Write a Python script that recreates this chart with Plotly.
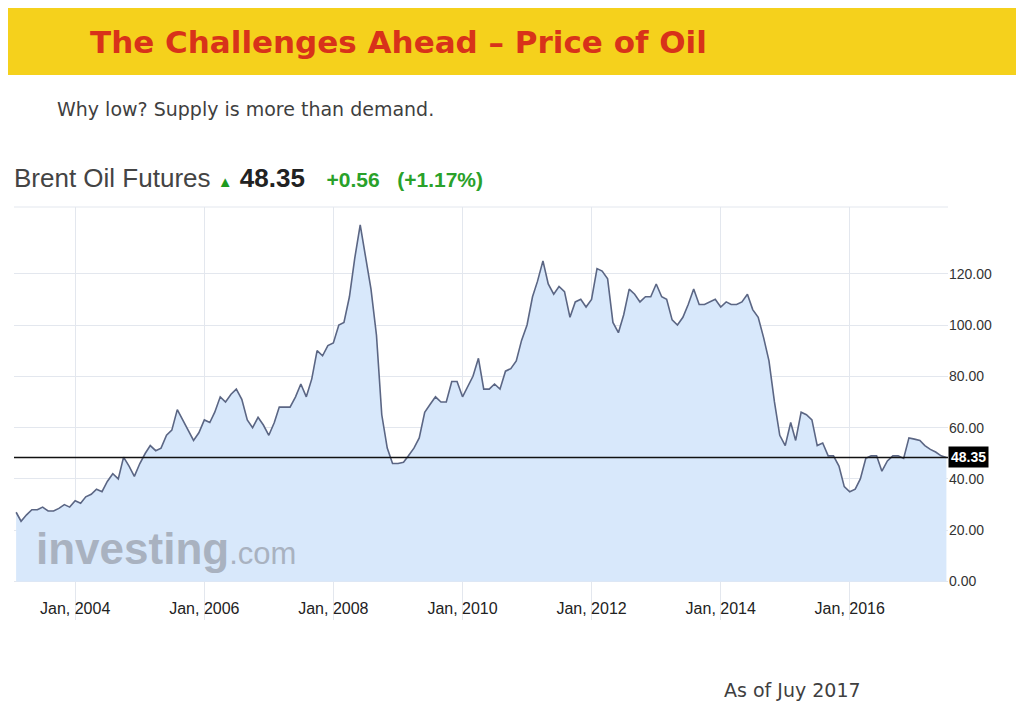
import pandas as pd
import plotly.graph_objects as go

# monthly Brent closes, Feb 2003 - Jul 2017
dates = pd.date_range("2003-02-01", "2017-07-01", freq="MS")
prices = [
    27, 23.5, 26, 28, 28, 29, 27.5, 27.5, 28.5, 30, 29,
    31.5, 30.5, 33, 34, 36, 35, 39, 42, 40, 48.5, 45, 41,
    46, 50, 53, 51, 52, 57, 59, 67, 63, 59, 55, 58,
    63, 62, 66, 72, 70, 73, 75, 71, 63, 60, 64, 61,
    57, 62, 68, 68, 68, 72, 77, 72, 79, 90, 88, 92,
    93, 100, 101, 111, 126, 139, 126, 114, 96, 65, 52, 46,
    46, 46.5, 49, 52, 56, 66, 69, 72, 70, 70, 78, 78,
    72, 76, 80, 87, 75, 75, 77, 75, 82, 83, 86, 94,
    100, 111, 117, 125, 116, 112, 115, 113, 103, 109, 110, 107,
    110, 122, 121, 118, 101, 97, 104, 114, 112, 109, 111, 111,
    116, 111, 110, 102, 100, 103, 108, 114, 108, 108, 109, 110,
    107, 109, 108, 108, 109, 112, 106, 103, 95, 86, 70, 57,
    53, 62, 55, 66, 65, 63, 53, 54, 49, 49, 45, 37,
    35, 36, 40, 48, 49, 49, 43, 47, 49, 49, 48, 56,
    55.5, 55, 53, 51.5, 50.5, 49, 48.35,
]
last_price = 48.35
y_ticks = [0, 20, 40, 60, 80, 100, 120]
x_ticks = ["2004-01-01", "2006-01-01", "2008-01-01", "2010-01-01",
           "2012-01-01", "2014-01-01", "2016-01-01"]
x_labels = ["Jan, 2004", "Jan, 2006", "Jan, 2008", "Jan, 2010",
            "Jan, 2012", "Jan, 2014", "Jan, 2016"]

# page puts the figure 8px in from the top-left corner
OFF = 8
W, H = 1024 - OFF, 709 - OFF
def px_(x):
    return (x - OFF) / W
def py(y):
    return 1 - (y - OFF) / H

fig = go.Figure()
fig.add_trace(go.Scatter(
    x=dates, y=prices, mode="lines", fill="tozeroy",
    fillcolor="#d8e8fb", line=dict(color="#5b6684", width=1.6),
    hoverinfo="skip", showlegend=False,
))
fig.add_trace(go.Scatter(
    x=["2003-01-20", "2017-07-10"], y=[last_price, last_price], mode="lines",
    line=dict(color="#111111", width=1.3), hoverinfo="skip", showlegend=False,
))

fig.update_layout(
    width=W, height=H, margin=dict(l=0, r=0, t=0, b=0),
    paper_bgcolor="white", plot_bgcolor="white",
    font=dict(family="Liberation Sans"),
    xaxis=dict(
        domain=[px_(14), px_(948)],
        range=["2003-01-20", "2017-07-10"],
        tickvals=x_ticks, ticktext=x_labels,
        ticklabelposition="inside", ticks="",
        tickfont=dict(size=16, color="#222222"),
        showgrid=True, gridcolor="#e3e7ee", zeroline=False,
    ),
    yaxis=dict(
        domain=[py(620), py(207)],
        range=[-15, 146], side="right",
        tickvals=y_ticks, ticktext=[f"{v:.2f}" for v in y_ticks],
        tickfont=dict(size=14, color="#333333"),
        showgrid=True, gridcolor="#e3e7ee", zeroline=False,
        ticks="", ticklen=0,
    ),
    shapes=[
        dict(type="rect", xref="paper", yref="paper",
             x0=0, x1=1, y0=py(75), y1=1,
             fillcolor="#f5d11c", line=dict(width=0), layer="below"),
        dict(type="line", xref="paper", yref="paper",
             x0=px_(14), x1=px_(948), y0=py(207), y1=py(207),
             line=dict(color="#e3e7ee", width=1)),
    ],
)

fig.add_annotation(
    x=px_(948), y=last_price, xref="paper", yref="y",
    xanchor="left", yanchor="middle", showarrow=False,
    text="<b>48.35</b>", font=dict(size=14, color="white"),
    bgcolor="#000000", borderpad=2,
)

fig.add_annotation(
    x=px_(88), y=py(42), xref="paper", yref="paper",
    xanchor="left", yanchor="middle", showarrow=False,
    text="<b>The Challenges Ahead – Price of Oil</b>",
    font=dict(family="DejaVu Sans", size=31, color="#d8321a"),
)

fig.add_annotation(
    x=px_(55), y=py(109), xref="paper", yref="paper",
    xanchor="left", yanchor="middle", showarrow=False,
    text="Why low? Supply is more than demand.",
    font=dict(family="DejaVu Sans", size=19, color="#3f3f3f"),
)

fig.add_annotation(
    x=px_(12), y=py(178), xref="paper", yref="paper",
    xanchor="left", yanchor="middle", showarrow=False,
    text=("<span style='color:#444444'>Brent Oil Futures</span> "
          "<span style='color:#1f9a1f;font-size:15px'>▲</span> "
          "<b>48.35</b>   "
          "<b><span style='color:#2aa12a;font-size:21px'>+0.56   (+1.17%)</span></b>"),
    font=dict(family="Liberation Sans", size=26, color="#222222"),
)

fig.add_annotation(
    x=px_(34), y=py(548), xref="paper", yref="paper",
    xanchor="left", yanchor="middle", showarrow=False,
    text="<b>investing</b><span style='font-size:31px'>.com</span>",
    font=dict(family="Liberation Sans", size=44, color="#a9b2c0"),
)

fig.add_annotation(
    x=px_(722), y=py(690), xref="paper", yref="paper",
    xanchor="left", yanchor="middle", showarrow=False,
    text="As of Juy 2017",
    font=dict(family="DejaVu Sans", size=19, color="#3f3f3f"),
)

fig.write_html("out.html")
